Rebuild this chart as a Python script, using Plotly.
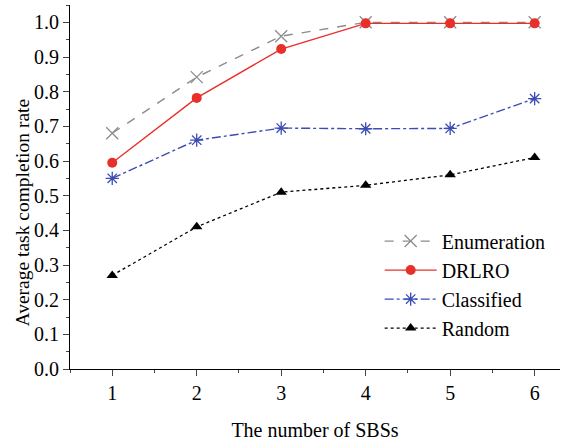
import plotly.graph_objects as go

x_vals = [1, 2, 3, 4, 5, 6]
enumeration = [0.68, 0.842, 0.96, 1.0, 1.0, 1.0]
drlro = [0.595, 0.782, 0.923, 0.997, 0.997, 0.997]
classified = [0.55, 0.66, 0.695, 0.693, 0.694, 0.78]
random_vals = [0.27, 0.41, 0.51, 0.53, 0.56, 0.61]

FONT = "Liberation Serif"

fig = go.Figure()
fig.add_trace(go.Scatter(x=x_vals, y=enumeration, name="Enumeration", mode="lines+markers",
                         line=dict(color="#8c8c8c", width=1.4, dash="dash"),
                         marker=dict(symbol="x-thin", size=12, line=dict(color="#8c8c8c", width=1.3))))
fig.add_trace(go.Scatter(x=x_vals, y=drlro, name="DRLRO", mode="lines+markers",
                         line=dict(color="#e8302a", width=1.4),
                         marker=dict(symbol="circle", size=10, color="#e8302a")))
fig.add_trace(go.Scatter(x=x_vals, y=classified, name="Classified", mode="lines+markers",
                         line=dict(color="#3b4cb4", width=1.4, dash="dashdot"),
                         marker=dict(symbol="asterisk", size=11, line=dict(color="#3b4cb4", width=1.3))))
fig.add_trace(go.Scatter(x=x_vals, y=random_vals, name="Random", mode="lines+markers",
                         line=dict(color="black", width=1.3, dash="dot"),
                         marker=dict(symbol="triangle-up", size=10, color="black")))

fig.update_layout(
    width=565, height=442,
    margin=dict(l=70, r=5, t=5, b=73),
    plot_bgcolor="white", paper_bgcolor="white",
    font=dict(family=FONT, size=20, color="black"),
    showlegend=True,
    legend=dict(x=0.632, y=0.405, xanchor="left", yanchor="top",
                bgcolor="rgba(0,0,0,0)", font=dict(family=FONT, size=20),
                tracegroupgap=0, itemwidth=52),
    xaxis=dict(range=[0.5, 6.3], tickvals=x_vals, ticks="outside", ticklen=6,
               showline=True, linecolor="black", linewidth=1.2, showgrid=False, zeroline=False,
               tickfont=dict(family=FONT, size=20), automargin=False,
               minor=dict(ticks="outside", ticklen=3, dtick=0.5, tick0=0.5, showgrid=False),
               title=dict(text="The number of SBSs", font=dict(family=FONT, size=20), standoff=19)),
    yaxis=dict(range=[0, 1.05], dtick=0.1, tickformat=".1f", ticks="outside", ticklen=6,
               showline=True, linecolor="black", linewidth=1.2, showgrid=False, zeroline=False,
               tickfont=dict(family=FONT, size=20), automargin=False,
               minor=dict(ticks="outside", ticklen=3, dtick=0.05, showgrid=False)),
    annotations=[dict(text="Average task completion rate", textangle=-90,
                      xref="paper", yref="paper", x=-0.098, y=0.43,
                      xanchor="center", yanchor="middle", showarrow=False,
                      font=dict(family=FONT, size=19.5))],
)

fig.write_html("out.html", config={"displayModeBar": False},
               post_script="document.body.style.margin='0';")
